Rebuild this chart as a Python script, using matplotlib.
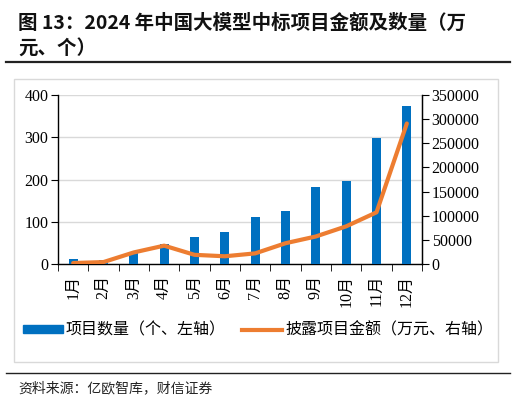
import matplotlib
matplotlib.use("Agg")
import matplotlib.pyplot as plt
from matplotlib.patches import Rectangle
from matplotlib.lines import Line2D
import numpy as np

months = ["1月", "2月", "3月", "4月", "5月", "6月", "7月", "8月", "9月", "10月", "11月", "12月"]
counts = [12, 10, 29, 48, 65, 76, 112, 125, 182, 197, 298, 373]
amounts = [2000, 4000, 24000, 38000, 19000, 16000, 22000, 43000, 57000, 78000, 107000, 291000]
left_ticks = [0, 100, 200, 300, 400]
right_ticks = [0, 50000, 100000, 150000, 200000, 250000, 300000, 350000]

title1 = "图 13：2024 年中国大模型中标项目金额及数量（万"
title2 = "元、个）"
source = "资料来源：亿欧智库，财信证券"
leg_bar = "项目数量（个、左轴）"
leg_line = "披露项目金额（万元、右轴）"

BLUE = "#0070C0"
ORANGE = "#ED7D31"
CJK = ["Noto Sans CJK SC", "DejaVu Sans"]
SERIF = ["Liberation Serif", "Noto Sans CJK SC"]

W, H = 516, 403
fig = plt.figure(figsize=(W / 100, H / 100), dpi=100)

def fx(px):
    return px / W

def fy(py):
    return 1 - py / H

# Title
fig.text(fx(18), fy(23), title1, family=CJK, weight="bold", fontsize=14,
         va="center", ha="left", color="#111111")
fig.text(fx(18), fy(49), title2, family=CJK, weight="bold", fontsize=14,
         va="center", ha="left", color="#111111")
fig.add_artist(Line2D([fx(6), fx(510)], [fy(62), fy(62)], color="#222222", lw=1.6))
fig.add_artist(Line2D([fx(6), fx(510)], [fy(373), fy(373)], color="#222222", lw=1.0))
fig.add_artist(Rectangle((fx(14), fy(362)), fx(498) - fx(14), fy(79) - fy(362),
                         fill=False, edgecolor="#D9D9D9", lw=1.0))
fig.text(fx(18), fy(388), source, family=CJK, fontsize=10, va="center", ha="left",
         color="#222222", style="italic")

# Axes
ax = fig.add_axes([fx(58), fy(264), fx(422) - fx(58), fy(95) - fy(264)])
x = np.arange(len(months))
ax.bar(x, counts, width=0.3, color=BLUE, zorder=3)
ax.set_xlim(-0.5, len(months) - 0.5)
ax.set_ylim(0, 400)
ax.set_yticks(left_ticks)
ax.set_yticklabels([str(v) for v in left_ticks], family=SERIF, fontsize=11.5)
ax.yaxis.grid(True, color="#D9D9D9", lw=1.0, zorder=0)
ax.set_axisbelow(True)
ax.set_xticks(x)
ax.set_xticklabels(months, rotation=90, family=SERIF, fontsize=11.5)
ax.set_xticks(np.arange(len(months) + 1) - 0.5, minor=True)
ax.tick_params(axis="x", which="major", length=0, pad=8)
ax.tick_params(axis="x", which="minor", length=5, direction="out", color="black")
ax.tick_params(axis="y", length=5, direction="out", color="black", pad=2)
ax.spines["top"].set_visible(False)
for s in ["left", "bottom", "right"]:
    ax.spines[s].set_color("black")
    ax.spines[s].set_linewidth(1.0)

ax2 = ax.twinx()
ax2.plot(x, amounts, color=ORANGE, lw=3.0, solid_joinstyle="round",
         solid_capstyle="round", zorder=4)
ax2.set_ylim(0, 350000)
ax2.set_yticks(right_ticks)
ax2.set_yticklabels([str(v) for v in right_ticks], family=SERIF, fontsize=11.5)
ax2.tick_params(axis="y", length=5, direction="out", color="black", pad=2)
ax2.spines["top"].set_visible(False)
ax2.spines["right"].set_color("black")
for s in ["left", "bottom"]:
    ax2.spines[s].set_visible(False)

# Legend
handles = [Rectangle((0, 0), 1, 1, color=BLUE), Line2D([0], [0], color=ORANGE, lw=3)]
leg = fig.legend(handles, [leg_bar, leg_line], loc="center", ncol=2,
                 bbox_to_anchor=(fx(258), fy(330)), frameon=False,
                 prop={"family": CJK, "size": 11.5}, handlelength=2.5,
                 handleheight=0.35, handletextpad=0.2, columnspacing=1.0)

fig.savefig("out.png", dpi=100)
